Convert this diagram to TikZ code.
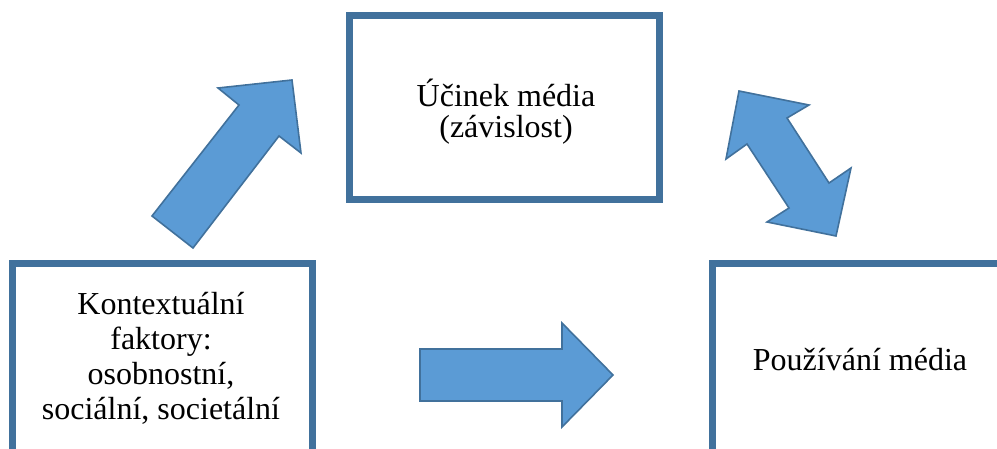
\documentclass[tikz,border=0pt]{standalone}
\usepackage{fontspec}
\setmainfont{Liberation Serif}

\definecolor{frameblue}{HTML}{41719C}
\definecolor{arrowblue}{HTML}{5B9BD5}

\tikzset{
  frame/.style={draw=frameblue, line width=3.5pt},
  blockarrow/.style={draw=frameblue, fill=arrowblue, line width=0.8pt, line join=miter},
  boxtext/.style={font=\fontsize{16}{17.5}\selectfont, align=center, inner sep=0pt}
}

\begin{document}
\begin{tikzpicture}[x=0.5pt,y=-0.5pt]
    \useasboundingbox (0,0) rectangle (997,449);
    \clip (0,0) rectangle (997,449);

    % boxes
    \draw[frame] (349,16) rectangle (659,200);
    \draw[frame] (12,263) rectangle (312,480);
    \draw[frame] (712,263) rectangle (1020,480);

    \node[boxtext, font=\fontsize{16}{15.5}\selectfont] (effect) at (506,112) {Účinek média\\(závislost)};
    \node[boxtext] (context) at (161,358) {Kontextuální\\faktory:\\osobnostní,\\sociální, societální};
    \node[boxtext, anchor=base] (usage) at (860,370) {Používání média};

    % block arrows
    \draw[blockarrow] (152,216) -- (193,248) -- (279,136) -- (301,153)
      -- (292,80) -- (218,88) -- (239,105) -- cycle;
    \draw[blockarrow] (739,91) -- (809,105) -- (787,118) -- (829,183)
      -- (851,168) -- (836,236) -- (767,222) -- (789,208) -- (747,144)
      -- (726,159) -- cycle;
    \draw[blockarrow] (420,349) -- (562,349) -- (562,323) -- (613,375)
      -- (562,427) -- (562,401) -- (420,401) -- cycle;

\end{tikzpicture}
\end{document}
